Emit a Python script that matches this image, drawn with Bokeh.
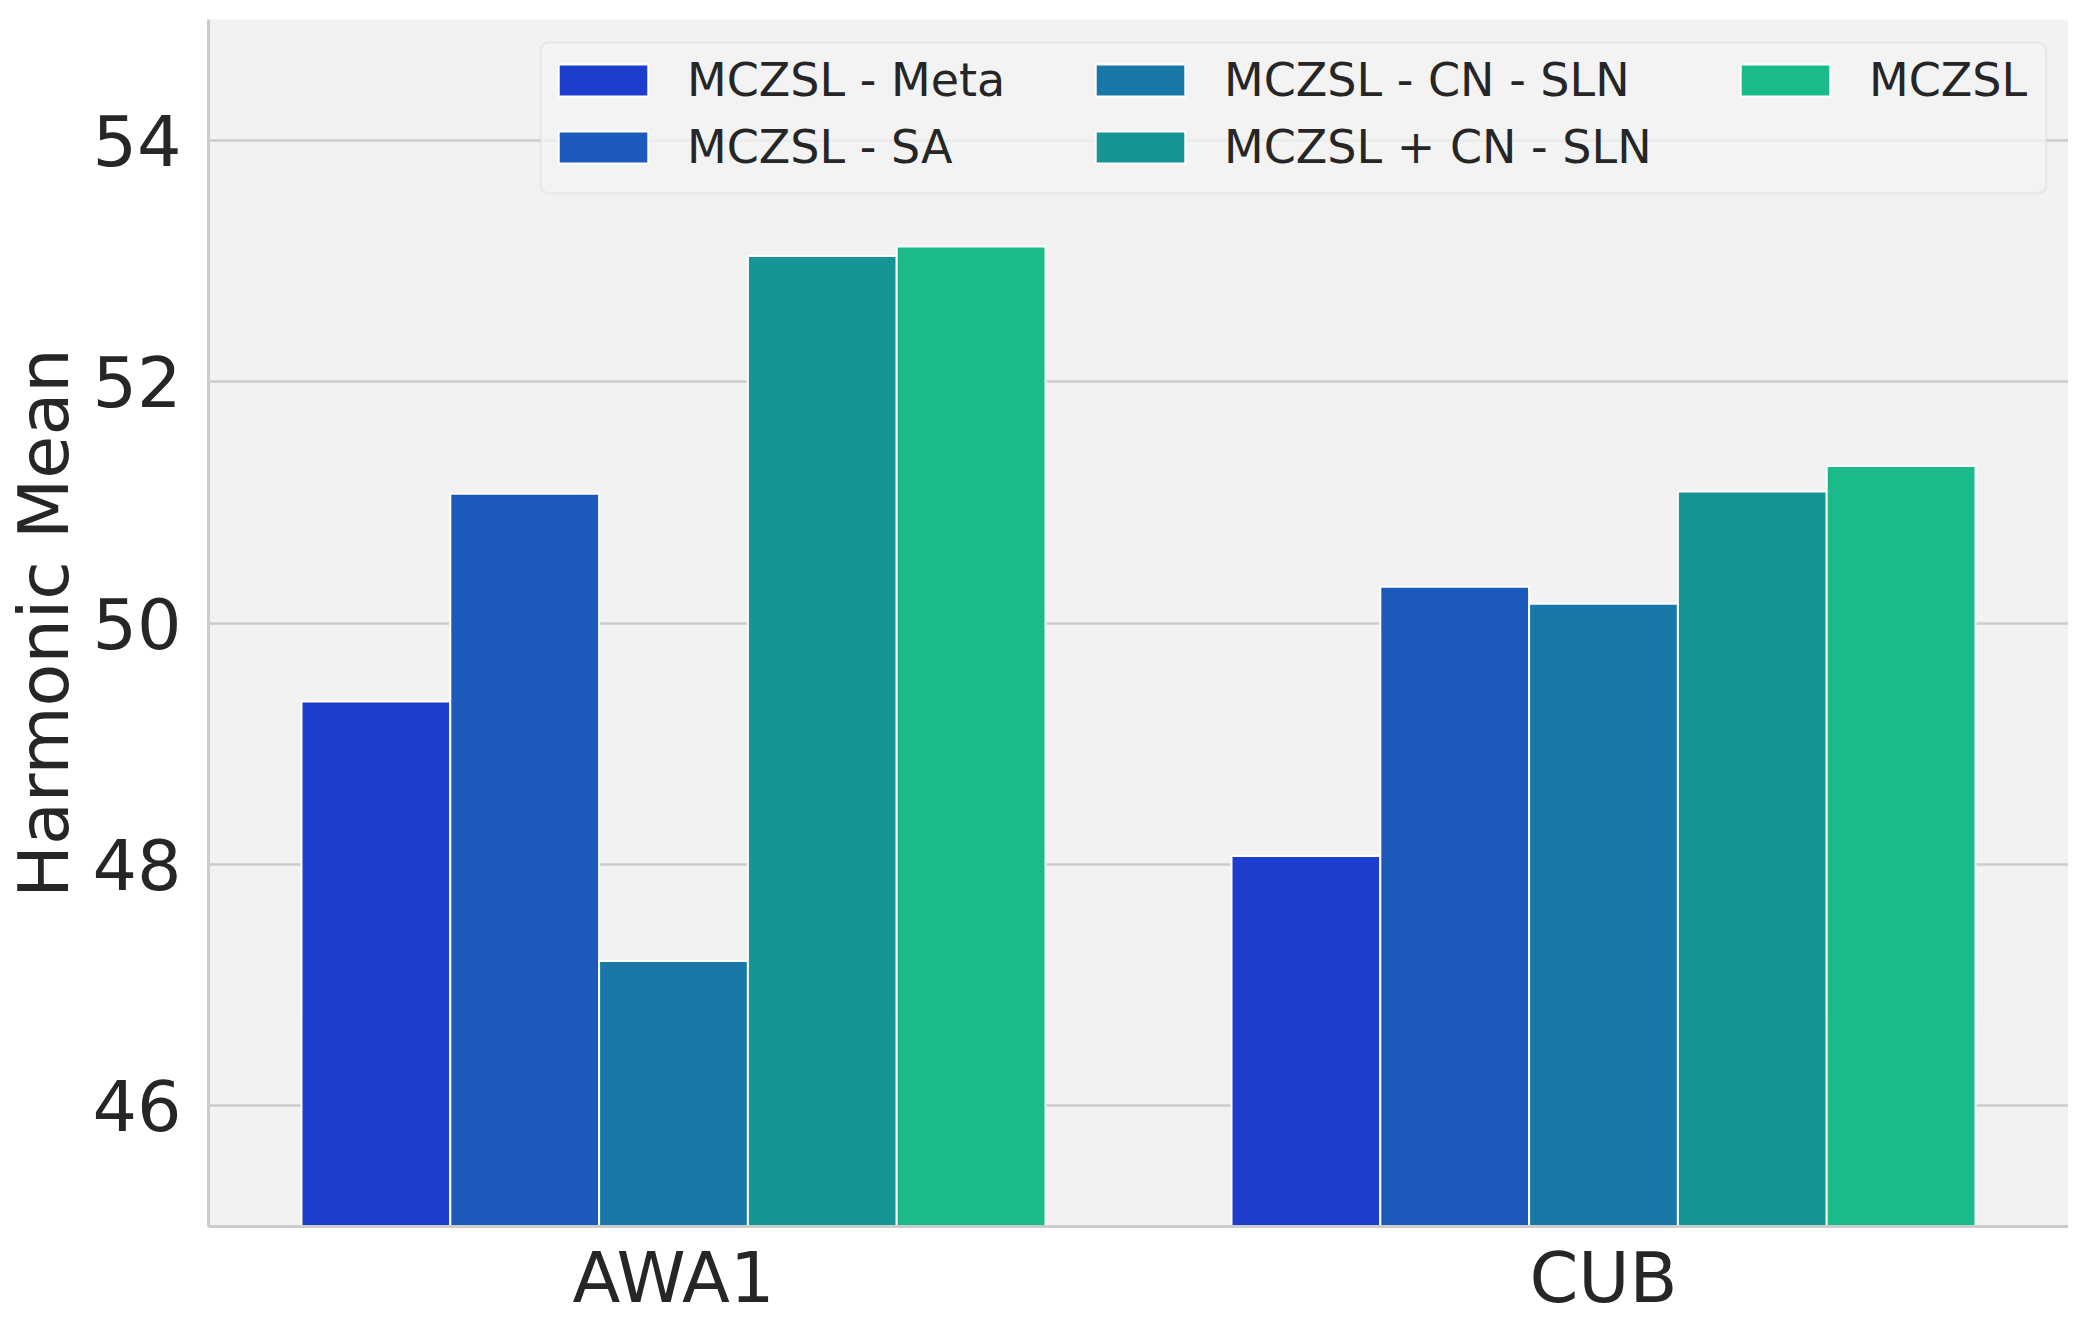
from bokeh.plotting import figure
from bokeh.models import (ColumnDataSource, FactorRange, FixedTicker, Legend,
                          LegendItem, BoxAnnotation)
from bokeh.transform import dodge
from bokeh.embed import file_html
from bokeh.resources import INLINE

# ---- data ----
datasets = ["AWA1", "CUB"]
methods = ["MCZSL - Meta", "MCZSL - SA", "MCZSL - CN - SLN", "MCZSL + CN - SLN", "MCZSL"]
meta_vals = [49.35, 48.07]
sa_vals = [51.07, 50.30]
cn_sln_vals = [47.20, 50.16]
plus_cn_sln_vals = [53.04, 51.09]
mczsl_vals = [53.12, 51.30]
y_ticks = [46, 48, 50, 52, 54]

series = [meta_vals, sa_vals, cn_sln_vals, plus_cn_sln_vals, mczsl_vals]
colors = ["#1d3dcc", "#1b5aba", "#1878a7", "#159595", "#1bba8a"]

FONT = "DejaVu Sans"
TXT = "#262626"
GRID = "#cccccc"

p = figure(x_range=FactorRange(factors=datasets, range_padding=0),
           y_range=(45, 55),
           frame_width=1860, frame_height=1207,
           min_border_left=200, min_border_right=0, min_border_top=19,
           min_border_bottom=0,
           output_backend="svg", toolbar_location=None)

p.background_fill_color = "#f2f2f2"
p.border_fill_color = "white"
p.outline_line_color = None

data = {"ds": datasets}
for i, vals in enumerate(series):
    data["v%d" % i] = vals
src = ColumnDataSource(data)

bar_w = 0.16
offsets = [-0.32, -0.16, 0.0, 0.16, 0.32]
renderers = []
for i in range(5):
    r = p.vbar(x=dodge("ds", offsets[i], range=p.x_range), top="v%d" % i, bottom=0,
               width=bar_w, source=src, fill_color=colors[i],
               line_color="white", line_width=2)
    renderers.append(r)

# axes
p.xgrid.visible = False
p.ygrid.grid_line_color = GRID
p.ygrid.grid_line_width = 2.5
p.yaxis.ticker = FixedTicker(ticks=y_ticks)

for ax in (p.xaxis[0], p.yaxis[0]):
    ax.axis_line_color = GRID
    ax.axis_line_width = 3
    ax.major_tick_line_color = None
    ax.minor_tick_line_color = None
    ax.major_tick_out = 0
    ax.major_tick_in = 0
    ax.major_label_text_font = FONT
    ax.major_label_text_font_size = "70px"
    ax.major_label_text_color = TXT

p.xaxis.major_label_standoff = 10
p.yaxis.major_label_standoff = 27
p.yaxis.axis_label = "Harmonic Mean"
p.yaxis.axis_label_text_font = FONT
p.yaxis.axis_label_text_font_size = "70px"
p.yaxis.axis_label_text_font_style = "normal"
p.yaxis.axis_label_text_color = TXT
p.yaxis.axis_label_standoff = 4

# legend frame
box = BoxAnnotation(left=0.357, right=1.976, top=54.81, bottom=53.56,
                    fill_color="#f2f2f2", fill_alpha=0.8,
                    line_color="#cfcfcf", line_width=2.5, border_radius=8)
p.add_layout(box)

# legend columns (three legends, matplotlib style column layout)
cols = [[0, 1], [2, 3], [4]]
col_x = [339, 876, 1521]
for ci, idxs in enumerate(cols):
    items = [LegendItem(label=methods[k], renderers=[renderers[k]]) for k in idxs]
    n = len(idxs)
    bottom_y = 1207 - 27 - n * 67
    leg = Legend(items=items, location=(col_x[ci], bottom_y),
                 orientation="vertical", padding=0, margin=0, spacing=0,
                 glyph_width=112, glyph_height=40, label_standoff=28,
                 label_height=67, label_text_font=FONT,
                 label_text_font_size="46px", label_text_color=TXT,
                 border_line_alpha=0, background_fill_alpha=0)
    p.add_layout(leg)

open("out.html", "w").write(file_html(p, INLINE))
